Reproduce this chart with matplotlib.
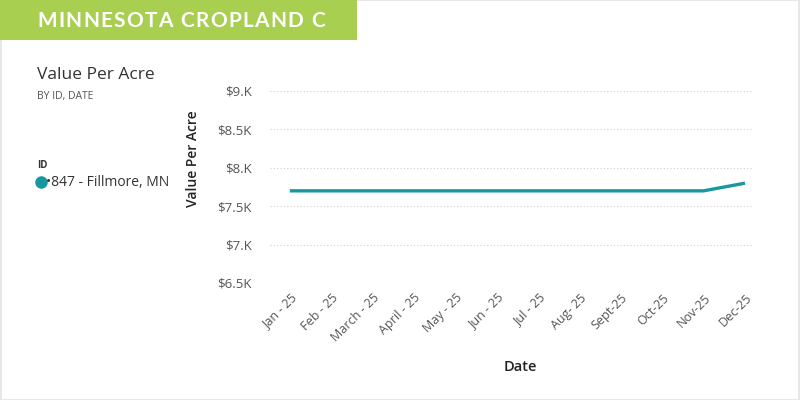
import matplotlib
matplotlib.use("Agg")
import matplotlib.pyplot as plt
from matplotlib.patches import Rectangle
from matplotlib.lines import Line2D
from matplotlib.transforms import ScaledTranslation

months = ["Jan - 25", "Feb - 25", "March - 25", "April - 25", "May - 25", "Jun - 25",
          "Jul - 25", "Aug- 25", "Sept-25", "Oct-25", "Nov-25", "Dec-25"]
values = [7700, 7700, 7700, 7700, 7700, 7700, 7700, 7700, 7700, 7700, 7700, 7800]
yticks = [6500, 7000, 7500, 8000, 8500, 9000]
ytick_labels = ["$6.5K", "$7.K", "$7.5K", "$8.K", "$8.5K", "$9.K"]
series_name = "847 - Fillmore, MN"
banner_title = "MINNESOTA CROPLAND C"

teal = "#17989f"
green = "#a9cf50"
plt.rcParams['font.family'] = ['Open Sans', 'DejaVu Sans']

fig = plt.figure(figsize=(8, 4), dpi=100)
fig.patch.set_facecolor("white")

# borders
fig.add_artist(Rectangle((0.001, 0.0), 0.998, 0.999, transform=fig.transFigure,
                         fill=False, edgecolor="#e3e3e3", lw=1.2))
# banner
fig.add_artist(Rectangle((0, 1 - 40/400), 357/800, 40/400, transform=fig.transFigure,
                         facecolor=green, edgecolor="none"))

# banner title with letter spacing, fitted to span 37..325 px
renderer = fig.canvas.get_renderer()
chars = []
widths = []
for ch in banner_title:
    t = fig.text(0, 1 - 21/400, ch, color="white", fontsize=15,
                 fontweight="bold", ha="left", va="center", family=["Lato", "DejaVu Sans"])
    w = t.get_window_extent(renderer).width if ch != " " else 5.0
    chars.append(t)
    widths.append(w)
gap = ((325 - 37) - sum(widths)) / (len(widths) - 1)
xpos = 37.0
for t, w in zip(chars, widths):
    t.set_x(xpos / 800)
    xpos += w + gap

# headings
fig.text(37/800, 1 - 75/400, "Value Per Acre", fontsize=12.5, color="#333333", va="center")
fig.text(37/800, 1 - 96/400, "BY ID, DATE", fontsize=7.5, color="#555555", va="center")
fig.text(37/800, 1 - 166/400, "ID", fontsize=7, color="#333333", va="center", fontweight="bold")
fig.add_artist(Line2D([41/800], [1 - 182/400], transform=fig.transFigure, marker="o",
                      markersize=9, color=teal, markeredgewidth=0))
fig.text(46/800, 1 - 182/400, "•" + series_name, fontsize=10, color="#333333", va="center")

ax = fig.add_axes([270/800, 1 - 283/400, (752 - 270)/800, (283 - 91)/400])
x = list(range(len(months)))
ax.plot(x, values, color=teal, lw=2.4, solid_capstyle="butt")
ax.set_xlim(-0.48, 11.17)
ax.set_ylim(6500, 9000)
ax.set_yticks(yticks)
ax.set_yticklabels(ytick_labels)
ax.set_xticks(x)
ax.set_xticklabels(months, rotation=45, ha="right", rotation_mode="anchor")
shift = ScaledTranslation(-5/100, 0, fig.dpi_scale_trans)
for lbl in ax.get_xticklabels():
    lbl.set_transform(lbl.get_transform() + shift)
ax.grid(axis="y", color="#d0d0d0", lw=0.8, linestyle=(0, (1, 2)))
ax.set_axisbelow(True)
for s in ax.spines.values():
    s.set_visible(False)
ax.tick_params(length=0, labelsize=9.5, colors="#555555")
ax.tick_params(axis="y", pad=13)
ax.tick_params(axis="x", labelsize=9, pad=6)
ax.set_ylabel("Value Per Acre", fontsize=10, color="#222222", fontweight="semibold")
ax.yaxis.set_label_coords(-0.16, 0.65)
ax.set_xlabel("Date", fontsize=10.5, color="#222222", fontweight="semibold")
ax.xaxis.set_label_coords((520 - 270)/482, -(367 - 283)/192)
ax.xaxis.label.set_va("center")
ax.yaxis.label.set_va("center")

fig.savefig("out.png", dpi=100)
